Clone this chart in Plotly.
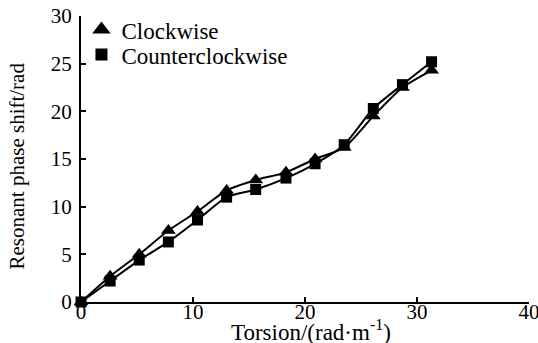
import plotly.graph_objects as go

torsion = [0, 2.6, 5.2, 7.8, 10.4, 13.0, 15.6, 18.3, 20.9, 23.5, 26.1, 28.7, 31.3]
clockwise = [0, 2.7, 5.0, 7.5, 9.5, 11.7, 12.8, 13.6, 15.0, 16.2, 19.5, 22.5, 24.3]
counterclockwise = [0, 2.2, 4.4, 6.3, 8.6, 11.0, 11.8, 13.0, 14.5, 16.5, 20.3, 22.8, 25.2]
series_names = ["Clockwise", "Counterclockwise"]
x_title = "Torsion/(rad·m<sup>-1</sup>)"
y_title = "Resonant phase shift/rad"

font = '"Liberation Serif", "Times New Roman", Times, serif'

fig = go.Figure()
fig.add_trace(go.Scatter(
    x=torsion, y=clockwise, name=series_names[0], mode="lines+markers",
    line=dict(color="black", width=2, shape="spline", smoothing=0.6),
    marker=dict(symbol="triangle-up", size=13, color="black"),
    cliponaxis=False, showlegend=False))
fig.add_trace(go.Scatter(
    x=torsion, y=counterclockwise, name=series_names[1], mode="lines+markers",
    line=dict(color="black", width=2, shape="spline", smoothing=0.6),
    marker=dict(symbol="square", size=11, color="black"),
    cliponaxis=False, showlegend=False))
# legend entries (markers only, as in the reference)
fig.add_trace(go.Scatter(x=[None], y=[None], name=series_names[0], mode="markers",
                         marker=dict(symbol="triangle-up", size=16, color="black"),
                         legend="legend"))
fig.add_trace(go.Scatter(x=[None], y=[None], name=series_names[1], mode="markers",
                         marker=dict(symbol="square", size=12, color="black"),
                         legend="legend2"))

axis_common = dict(showline=True, linecolor="black", linewidth=2,
                   ticks="inside", ticklen=5, tickwidth=2, tickcolor="black",
                   showgrid=False, zeroline=False, automargin=False,
                   tickfont=dict(size=21, family=font, color="black"))

legend_common = dict(xanchor="left", yanchor="top", bgcolor="rgba(0,0,0,0)",
                     font=dict(size=23, family=font, color="black"), itemwidth=30)

fig.update_layout(
    width=538, height=343,
    margin=dict(l=81, r=9, t=15, b=41),
    paper_bgcolor="white", plot_bgcolor="white",
    font=dict(family=font, size=21, color="black"),
    showlegend=True,
    legend=dict(x=0.001, y=1.024, **legend_common),
    legend2=dict(x=0.001, y=0.937, **legend_common),
    xaxis=dict(range=[0, 40], tickvals=[0, 10, 20, 30, 40], ticklabelstandoff=-10,
               ticklabeloverflow="allow", **axis_common),
    yaxis=dict(range=[0, 30], tickvals=[0, 5, 10, 15, 20, 25, 30], ticklabelstandoff=3,
               **axis_common),
    annotations=[
        dict(text=x_title, xref="paper", yref="paper", x=0.513, y=-0.1,
             xanchor="center", yanchor="middle", showarrow=False,
             font=dict(size=23, family=font, color="black")),
        dict(text=y_title, xref="paper", yref="paper", x=-0.143, y=0.477,
             xanchor="center", yanchor="middle", showarrow=False, textangle=-90,
             font=dict(size=21, family=font, color="black")),
    ],
)

fig.write_html("out.html")
